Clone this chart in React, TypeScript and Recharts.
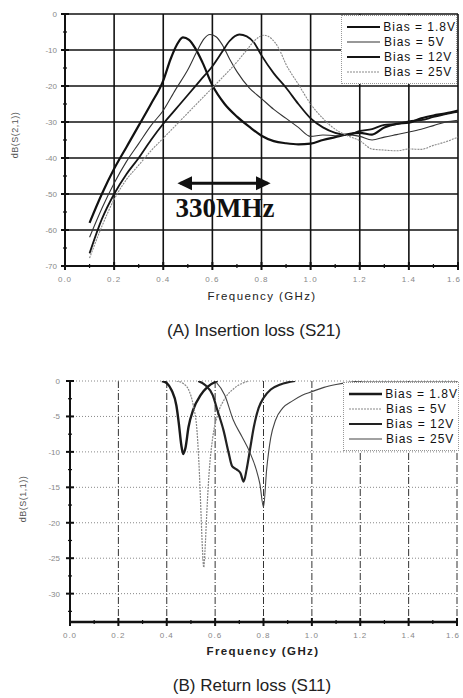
import React from 'react';
import { LineChart, Line, XAxis, YAxis, CartesianGrid, ReferenceLine } from 'recharts';

// S21 (insertion loss), [GHz, dB]
const s21Bias18 = [
  [0.1, -58], [0.15, -50], [0.2, -43], [0.25, -37], [0.3, -31], [0.35, -25], [0.4, -18.5], [0.43, -12.5],
  [0.455, -8.6], [0.48, -6.5], [0.505, -7.2], [0.53, -9.5], [0.56, -13.5], [0.6, -19.8], [0.65, -25],
  [0.7, -28.5], [0.75, -31.3], [0.8, -33.8], [0.85, -35.3], [0.9, -35.9], [0.95, -36.2], [1.0, -36],
  [1.05, -35], [1.1, -34.2], [1.15, -33.4], [1.2, -33], [1.25, -33.5], [1.3, -31.5], [1.35, -30.5],
  [1.4, -30.2], [1.45, -29], [1.5, -28.2], [1.55, -27.6], [1.6, -26.8],
];
const s21Bias5 = [
  [0.1, -62], [0.15, -54], [0.2, -47], [0.25, -41], [0.3, -36], [0.35, -31], [0.4, -26.8], [0.45, -21],
  [0.5, -15.5], [0.54, -10], [0.565, -7], [0.59, -5.7], [0.615, -6.3], [0.64, -8.5], [0.67, -12.5],
  [0.7, -16], [0.75, -20.5], [0.8, -23.5], [0.85, -26.5], [0.9, -29], [0.95, -31.5], [1.0, -34],
  [1.05, -33.6], [1.1, -33.8], [1.15, -33.5], [1.2, -34], [1.25, -35], [1.3, -34.2], [1.35, -33.5],
  [1.4, -32.8], [1.45, -32], [1.5, -31], [1.55, -30], [1.6, -29.5],
];
const s21Bias12 = [
  [0.1, -66.5], [0.15, -57], [0.2, -50], [0.25, -44.5], [0.3, -40], [0.35, -35], [0.4, -30.5], [0.45, -26.5],
  [0.5, -22.5], [0.55, -18.5], [0.6, -14.5], [0.64, -10.5], [0.67, -7.5], [0.71, -5.7], [0.74, -6.2],
  [0.77, -8], [0.8, -11.5], [0.85, -16.5], [0.9, -20.5], [0.95, -25], [1.0, -29], [1.05, -31.5],
  [1.1, -33], [1.15, -33.6], [1.2, -32.5], [1.25, -32], [1.3, -30.8], [1.35, -30.6], [1.4, -29.8],
  [1.45, -29.5], [1.5, -28.6], [1.55, -27.8], [1.6, -27.2],
];
const s21Bias25 = [
  [0.1, -67.8], [0.15, -59], [0.2, -51.5], [0.25, -46], [0.3, -42], [0.35, -38], [0.4, -34.5], [0.45, -31],
  [0.5, -27.5], [0.55, -24], [0.6, -20.5], [0.65, -17], [0.7, -13.3], [0.74, -10], [0.77, -7.5],
  [0.81, -5.9], [0.84, -6.8], [0.87, -9.5], [0.9, -14], [0.95, -19.5], [1.0, -25], [1.05, -29],
  [1.1, -32], [1.15, -33.8], [1.2, -35.2], [1.25, -37.5], [1.3, -37.8], [1.35, -38], [1.4, -37.5],
  [1.45, -37.6], [1.5, -36.5], [1.55, -35.5], [1.6, -34.2],
];

// S11 (return loss), [GHz, dB]
const s11Bias18 = [
  [0.38, 0], [0.4, -0.3], [0.42, -1.3], [0.44, -3.5], [0.45, -6], [0.46, -9], [0.468, -10.3],
  [0.477, -9.5], [0.49, -6.5], [0.51, -4], [0.54, -2], [0.57, -0.8], [0.61, 0],
];
const s11Bias5 = [
  [0.44, 0], [0.47, -0.4], [0.49, -1.2], [0.51, -3.5], [0.525, -7], [0.535, -13], [0.542, -19],
  [0.548, -24], [0.553, -26.3], [0.558, -24], [0.565, -19], [0.575, -13], [0.59, -8], [0.61, -4.8],
  [0.64, -2.5], [0.68, -1], [0.74, 0],
];
const s11Bias12 = [
  [0.53, 0], [0.56, -0.6], [0.59, -2], [0.61, -4.2], [0.635, -7], [0.655, -10], [0.67, -12],
  [0.69, -12.5], [0.705, -13], [0.718, -14.2], [0.73, -12.5], [0.745, -9.5], [0.76, -6.5],
  [0.78, -3.8], [0.8, -2.4], [0.83, -1.2], [0.87, -0.5], [0.93, 0],
];
const s11Bias25 = [
  [0.6, 0], [0.64, -2], [0.675, -5.5], [0.71, -7.8], [0.744, -10.1], [0.77, -12.5], [0.785, -14.5],
  [0.8, -17.8], [0.813, -12.5], [0.83, -8], [0.85, -5.5], [0.88, -3.8], [0.92, -2.8], [0.96, -2],
  [1.0, -1.5], [1.05, -0.9], [1.1, -0.5], [1.15, -0.2], [1.22, 0], [1.6, 0],
];

const biasNames = ['Bias = 1.8V', 'Bias = 5V', 'Bias = 12V', 'Bias = 25V'];

const freqTicks = [0, 0.1, 0.2, 0.3, 0.4, 0.5, 0.6, 0.7, 0.8, 0.9, 1.0, 1.1, 1.2, 1.3, 1.4, 1.5, 1.6];
const freqMajor = [0, 0.2, 0.4, 0.6, 0.8, 1.0, 1.2, 1.4, 1.6];
const s21Ticks = [0, -5, -10, -15, -20, -25, -30, -35, -40, -45, -50, -55, -60, -65, -70];
const s21Major = [0, -10, -20, -30, -40, -50, -60, -70];
const s11Ticks = [0, -2.5, -5, -7.5, -10, -12.5, -15, -17.5, -20, -22.5, -25, -27.5, -30, -32.5];
const s11Major = [0, -5, -10, -15, -20, -25, -30];

const toPts = (arr: number[][]) => arr.map(([f, db]) => ({ f, db }));

const s21Series = [
  { name: biasNames[0], data: s21Bias18, stroke: '#111', width: 2.2, dash: undefined },
  { name: biasNames[1], data: s21Bias5, stroke: '#333', width: 1.1, dash: undefined },
  { name: biasNames[2], data: s21Bias12, stroke: '#151515', width: 1.8, dash: undefined },
  { name: biasNames[3], data: s21Bias25, stroke: '#8a8a8a', width: 1.1, dash: '2 1' },
];
const s11Series = [
  { name: biasNames[0], data: s11Bias18, stroke: '#1a1a1a', width: 2.4, dash: undefined },
  { name: biasNames[1], data: s11Bias5, stroke: '#888', width: 1.2, dash: '2 1' },
  { name: biasNames[2], data: s11Bias12, stroke: '#222', width: 2.2, dash: undefined },
  { name: biasNames[3], data: s11Bias25, stroke: '#444', width: 1.1, dash: undefined },
];

const sans = '"Liberation Sans", Arial, sans-serif';

const XTick = (props: any) => {
  const { x, y, payload } = props;
  const major = freqMajor.some((m) => Math.abs(m - payload.value) < 1e-6);
  const last = payload.value >= 1.6 - 1e-6;
  return (
    <g>
      <line x1={x} x2={x} y1={y - (major ? 4 : 2)} y2={y + (major ? 4 : 2)} stroke="#111" strokeWidth={major ? 2 : 1.2} />
      {major && (
        <text x={last ? x + 3 : x} y={y + 16} textAnchor={last ? 'end' : 'middle'} fontSize={8} fill="#888" fontFamily={sans} letterSpacing={1}>
          {payload.value.toFixed(1)}
        </text>
      )}
    </g>
  );
};

const makeYTick = (majors: number[], gap: number) => (props: any) => {
  const { x, y, payload } = props;
  const major = majors.includes(payload.value);
  return (
    <g>
      <line x1={x - (major ? 4 : 2)} x2={x + (major ? 4 : 2)} y1={y} y2={y} stroke="#111" strokeWidth={major ? 2 : 1.2} />
      {major && (
        <text x={x - gap} y={y + 3} textAnchor="end" fontSize={8} fill="#888" fontFamily={sans}>
          {payload.value}
        </text>
      )}
    </g>
  );
};

const S21Tick = makeYTick(s21Major, 8);
const S11Tick = makeYTick(s11Major, 10);

function LegendBox({ series, left, top }: { series: typeof s21Series; left: number; top: number }) {
  return (
    <div
      style={{
        position: 'absolute', left, top, width: 114, padding: '3px 0 4px 0', background: '#fff',
        border: '1px dotted #999', fontFamily: sans, fontSize: 12, letterSpacing: 1, color: '#111',
      }}
    >
      {series.map((s) => (
        <div key={s.name} style={{ display: 'flex', alignItems: 'center', height: 15 }}>
          <svg width={38} height={6} style={{ marginLeft: 4 }}>
            <line x1={1} x2={34} y1={3} y2={3} stroke={s.stroke} strokeWidth={s.width} strokeDasharray={s.dash} />
          </svg>
          <span style={{ whiteSpace: 'nowrap' }}>{s.name}</span>
        </div>
      ))}
    </div>
  );
}

const abs = (left: number, top: number): React.CSSProperties => ({ position: 'absolute', left, top });

export default function App() {
  return (
    <div style={{ position: 'absolute', left: 0, top: 0, width: 463, height: 698, background: '#fff', overflow: 'hidden' }}>
      <svg width={0} height={0} style={{ position: 'absolute' }}>
        <defs>
          <marker id="arrowHead" markerWidth="6" markerHeight="6" refX="4" refY="3" orient="auto-start-reverse" markerUnits="strokeWidth">
            <path d="M0,0.6 L5,3 L0,5.4 Z" fill="#111" />
          </marker>
        </defs>
      </svg>

      {/* (A) Insertion loss */}
      <div style={abs(0, 0)}>
        <LineChart width={463} height={300} margin={{ top: 14, right: 5, left: 25, bottom: 14 }}>
          <CartesianGrid
            stroke="#111"
            strokeWidth={1.6}
            horizontalValues={s21Major}
            verticalValues={freqMajor}
          />
          <XAxis
            type="number"
            dataKey="f"
            domain={[0, 1.6]}
            ticks={freqTicks}
            interval={0}
            height={20}
            tickSize={0}
            tickMargin={0}
            tick={<XTick />}
            axisLine={{ stroke: '#111', strokeWidth: 2 }}
            allowDataOverflow
          />
          <YAxis
            type="number"
            domain={[-70, 0]}
            ticks={s21Ticks}
            interval={0}
            width={40}
            tickSize={0}
            tickMargin={0}
            tick={<S21Tick />}
            axisLine={{ stroke: '#111', strokeWidth: 2 }}
            allowDataOverflow
          />
          <ReferenceLine
            segment={[{ x: 0.47, y: -47 }, { x: 0.825, y: -47 }]}
            stroke="#111"
            strokeWidth={3}
            markerStart="url(#arrowHead)"
            markerEnd="url(#arrowHead)"
          />
          {s21Series.map((s) => (
            <Line
              key={s.name}
              data={toPts(s.data)}
              dataKey="db"
              name={s.name}
              type="monotone"
              stroke={s.stroke}
              strokeWidth={s.width}
              strokeDasharray={s.dash}
              dot={false}
              isAnimationActive={false}
            />
          ))}
        </LineChart>
      </div>
      <LegendBox series={s21Series} left={341} top={15} />
      <div style={{ ...abs(165, 194), width: 120, textAlign: 'center', fontFamily: '"Liberation Serif", "Times New Roman", serif', fontWeight: 'bold', fontSize: 27, color: '#111', lineHeight: '28px' }}>
        330MHz
      </div>
      <div style={{ ...abs(-25, 130), width: 80, textAlign: 'center', transform: 'rotate(-90deg)', fontFamily: sans, fontSize: 9, color: '#555', letterSpacing: 0.5 }}>
        dB(S(2,1))
      </div>
      <div style={{ ...abs(162, 290), width: 200, textAlign: 'center', fontFamily: sans, fontSize: 11.5, letterSpacing: 1.4, color: '#222' }}>
        Frequency (GHz)
      </div>
      <div style={{ ...abs(104, 321), width: 300, textAlign: 'center', fontFamily: sans, fontSize: 17, color: '#222' }}>
        (A) Insertion loss (S21)
      </div>

      {/* (B) Return loss */}
      <div style={abs(0, 340)}>
        <LineChart width={463} height={310} margin={{ top: 41, right: 6, left: 30, bottom: 8 }}>
          <CartesianGrid horizontal={false} stroke="#333" strokeWidth={1} strokeDasharray="7 2 1 2" verticalValues={freqMajor.slice(1)} />
          <CartesianGrid vertical={false} stroke="#888" strokeWidth={1} strokeDasharray="1 2" horizontalValues={s11Major} />
          <XAxis
            type="number"
            dataKey="f"
            domain={[0, 1.6]}
            ticks={freqTicks}
            interval={0}
            height={20}
            tickSize={0}
            tickMargin={0}
            tick={<XTick />}
            axisLine={{ stroke: '#111', strokeWidth: 2.5 }}
            allowDataOverflow
          />
          <YAxis
            type="number"
            domain={[-34, 0]}
            ticks={s11Ticks}
            interval={0}
            width={40}
            tickSize={0}
            tickMargin={0}
            tick={<S11Tick />}
            axisLine={{ stroke: '#111', strokeWidth: 2 }}
            allowDataOverflow
          />
          {s11Series.map((s) => (
            <Line
              key={s.name}
              data={toPts(s.data)}
              dataKey="db"
              name={s.name}
              type="monotone"
              stroke={s.stroke}
              strokeWidth={s.width}
              strokeDasharray={s.dash}
              dot={false}
              isAnimationActive={false}
            />
          ))}
        </LineChart>
      </div>
      <LegendBox series={s11Series} left={343} top={382} />
      <div style={{ ...abs(-17, 494), width: 80, textAlign: 'center', transform: 'rotate(-90deg)', fontFamily: sans, fontSize: 9, color: '#555', letterSpacing: 0.5 }}>
        dB(S(1,1))
      </div>
      <div style={{ ...abs(163, 645), width: 200, textAlign: 'center', fontFamily: sans, fontSize: 11.5, letterSpacing: 1.4, color: '#222', fontWeight: 'bold' }}>
        Frequency (GHz)
      </div>
      <div style={{ ...abs(102, 676), width: 300, textAlign: 'center', fontFamily: sans, fontSize: 17, color: '#222' }}>
        (B) Return loss (S11)
      </div>
    </div>
  );
}
